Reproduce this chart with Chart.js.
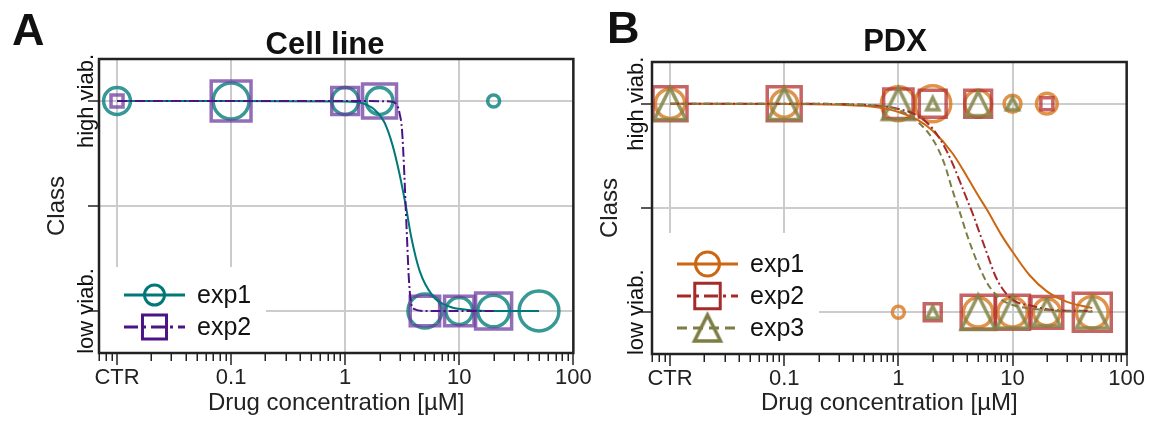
<!DOCTYPE html>
<html>
<head>
<meta charset="utf-8">
<script src="https://cdn.jsdelivr.net/npm/chart.js@4.4.0/dist/chart.umd.min.js"></script>
<style>
  html, body { margin: 0; padding: 0; background: #fff; overflow: hidden; }
  .wrap { position: relative; width: 1150px; height: 421px; overflow: hidden; }
  .panel { position: absolute; top: 0; }
  #panelA { left: 0; }
  #panelB { left: 580px; }
</style>
</head>
<body>
<div class="wrap">
  <div class="panel" id="panelA"><canvas id="chartA" width="605" height="421"></canvas></div>
  <div class="panel" id="panelB"><canvas id="chartB" width="577" height="421"></canvas></div>
</div>
<script>
// ---- axis ticks ----
const xTickValues = [0.01, 0.1, 1, 10, 100];      // CTR is plotted at 0.01
const xTickLabels = ['CTR', '0.1', '1', '10', '100'];
const yTickValues = [0, 0.5, 1];
const yTickLabels = ['low viab.', '', 'high viab.'];

// ---- Cell line: markers (n = replicate count, sets marker size) ----
const cellExp1X = [0.01, 0.1, 1, 2, 20, 5, 10, 20, 50];
const cellExp1Y = [1, 1, 1, 1, 1, 0, 0, 0, 0];
const cellExp1N = [5, 9, 5, 5, 1, 8, 5, 7, 11];
const cellExp2X = [0.01, 0.1, 1, 2, 5, 10, 20];
const cellExp2Y = [1, 1, 1, 1, 0, 0, 0];
const cellExp2N = [1, 11, 5, 8, 6, 6, 9];

// ---- Cell line: fitted curves ----
const cellFit1X = [0.01, 0.1, 1, 1.4, 1.8, 2.2, 2.6, 3.0, 3.4, 3.8, 4.5, 5.9, 8.3, 12, 20, 50];
const cellFit1Y = [1, 1, 0.998, 0.99, 0.96, 0.9, 0.79, 0.65, 0.5, 0.35, 0.19, 0.07, 0.02, 0.005, 0, 0];
const cellFit2X = [0.01, 0.1, 1, 2.5, 2.85, 3.0, 3.15, 3.3, 3.4, 3.5, 3.6, 3.75, 4.0, 5, 20];
const cellFit2Y = [1, 1, 1, 0.998, 0.98, 0.94, 0.86, 0.65, 0.48, 0.32, 0.17, 0.05, 0.01, 0, 0];

// ---- PDX: markers ----
const pdxExp1X = [0.01, 0.1, 1, 2, 5, 10, 20, 1, 5, 10, 20, 50];
const pdxExp1Y = [1, 1, 1, 1, 1, 1, 1, 0, 0, 0, 0, 0];
const pdxExp1N = [6, 5, 8, 9, 5, 2, 3, 1, 6, 6, 5, 7];
const pdxExp2X = [0.01, 0.1, 1, 2, 5, 20, 2, 5, 10, 20, 50];
const pdxExp2Y = [1, 1, 1, 1, 1, 1, 0, 0, 0, 0, 0];
const pdxExp2N = [8, 8, 6, 5, 5, 1, 2, 8, 8, 7, 10];
const pdxExp3X = [0.01, 0.1, 1, 2, 5, 10, 2, 5, 10, 20, 50];
const pdxExp3Y = [1, 1, 1, 1, 1, 1, 0, 0, 0, 0, 0];
const pdxExp3N = [7, 7, 7, 1, 4, 1, 1, 8, 7, 5, 7];

// ---- PDX: fitted curves ----
const pdxFit1X = [0.01, 0.1, 0.3, 0.5, 0.7, 1, 1.5, 2, 3, 4, 5, 6, 8, 10, 14, 20, 30, 50];
const pdxFit1Y = [1, 0.999, 0.995, 0.99, 0.98, 0.96, 0.92, 0.87, 0.76, 0.65, 0.56, 0.49, 0.37, 0.29, 0.18, 0.1, 0.05, 0.02];
const pdxFit2X = [0.01, 0.1, 0.5, 1, 1.5, 2, 2.5, 3, 3.5, 4, 4.5, 5, 6, 7, 8, 10, 15, 20, 50];
const pdxFit2Y = [1, 1, 0.995, 0.975, 0.94, 0.88, 0.8, 0.71, 0.62, 0.54, 0.47, 0.4, 0.28, 0.18, 0.12, 0.06, 0.03, 0.015, 0.005];
const pdxFit3X = [0.01, 0.1, 0.5, 1, 1.5, 2, 2.5, 3, 3.5, 4, 5, 6, 7, 8, 10, 20, 50];
const pdxFit3Y = [1, 1, 0.995, 0.97, 0.91, 0.83, 0.72, 0.58, 0.47, 0.37, 0.23, 0.14, 0.09, 0.06, 0.035, 0.01, 0.003];

const FONT = '"Liberation Sans", Arial, Helvetica, sans-serif';
Chart.defaults.font.family = FONT;
Chart.defaults.color = '#222';

const X_MIN = 0.00695, X_MAX = 100;
const minorX = [];
[0.001, 0.01, 0.1, 1, 10].forEach(d => { for (let k = 2; k <= 9; k++) minorX.push(d * k); });
const allXTicks = xTickValues.concat(minorX).filter(v => v >= X_MIN && v <= X_MAX).sort((a, b) => a - b);

function majorIndex(v) {
  return xTickValues.findIndex(t => Math.abs(v - t) / t < 1e-6);
}
const isMajorTick = c => !!(c.tick && majorIndex(c.tick.value) >= 0);

const rOf = n => 6 * Math.sqrt(n);
const pts = (xs, ys) => xs.map((x, i) => ({ x, y: ys[i] }));

// matplotlib-like "^": width == height, centred on its bounding box
function triCanvas(t, color, lw) {
  const pad = Math.ceil(lw * 2);
  const size = Math.ceil(2 * t) + 2 * pad;
  const c = document.createElement('canvas');
  c.width = c.height = size;
  const g = c.getContext('2d');
  const m = size / 2;
  g.strokeStyle = color;
  g.lineWidth = lw;
  g.lineJoin = 'miter';
  g.beginPath();
  g.moveTo(m, m - t);
  g.lineTo(m + t, m + t);
  g.lineTo(m - t, m + t);
  g.closePath();
  g.stroke();
  return c;
}

function markerSet(xs, ys, ns, style, color, order) {
  const k = style === 'rect' ? 1 / Math.SQRT1_2 : 1;
  const radii = ns.map(n => rOf(n) * k);
  const ps = style === 'triangle' ? ns.map(n => triCanvas(rOf(n), color, 3.5)) : style;
  return {
    data: pts(xs, ys), showLine: false, pointStyle: ps,
    pointRadius: radii, pointHoverRadius: radii,
    pointBorderColor: color, pointBackgroundColor: 'rgba(0,0,0,0)',
    pointBorderWidth: 3.5, order
  };
}

function curveSet(xs, ys, color, dash) {
  return {
    data: pts(xs, ys), showLine: true, pointRadius: 0, borderColor: color,
    borderWidth: 2, borderDash: dash, cubicInterpolationMode: 'monotone', fill: false, order: 0
  };
}

function panelPlugin(p) {
  return {
    id: 'panel' + p.letter,
    afterDatasetsDraw(chart) {
      const ctx = chart.ctx, ca = chart.chartArea;
      // legend box
      ctx.save();
      ctx.fillStyle = '#ffffff';
      const top = ca.bottom - p.legendHeight;
      ctx.fillRect(ca.left + 1, top, 166, ca.bottom - top - 1);
      p.legend.forEach((e, i) => {
        const y = ca.bottom - 26 - (p.legend.length - 1 - i) * 32;
        ctx.strokeStyle = e.line;
        ctx.lineWidth = 3;
        ctx.setLineDash(e.dash);
        ctx.beginPath();
        ctx.moveTo(ca.left + 25, y);
        ctx.lineTo(ca.left + 86, y);
        ctx.stroke();
        ctx.setLineDash([]);
        ctx.fillStyle = 'rgba(0,0,0,0)';
        const style = e.style === 'triangle' ? triCanvas(e.r, e.line, 3.5) : e.style;
        Chart.helpers.drawPoint(ctx, { pointStyle: style, radius: e.r, borderWidth: 3.5, rotation: 0 }, ca.left + 55.5, y);
        ctx.fillStyle = '#111';
        ctx.font = '25px ' + FONT;
        ctx.textAlign = 'left';
        ctx.textBaseline = 'middle';
        ctx.fillText(e.label, ca.left + 98, y + 1);
      });
      ctx.restore();
    },
    afterDraw(chart) {
      const ctx = chart.ctx, ca = chart.chartArea, ys = chart.scales.y, xs = chart.scales.x;
      ctx.save();
      // shorter minor tick marks on the log axis
      ctx.strokeStyle = '#222';
      ctx.lineWidth = 1.5;
      ctx.beginPath();
      allXTicks.filter(v => majorIndex(v) < 0).forEach(v => {
        const px = Math.round(xs.getPixelForValue(v)) + 0.25;
        ctx.moveTo(px, ca.bottom);
        ctx.lineTo(px, ca.bottom + 8);
      });
      ctx.stroke();
      // frame
      ctx.lineWidth = 2.5;
      ctx.strokeRect(ca.left, ca.top, ca.right - ca.left, ca.bottom - ca.top);
      // rotated y tick labels
      ctx.fillStyle = '#111';
      ctx.font = '22px ' + FONT;
      ctx.textAlign = 'center';
      ctx.textBaseline = 'alphabetic';
      yTickValues.forEach((v, i) => {
        if (!yTickLabels[i]) return;
        ctx.save();
        ctx.translate(ca.left - p.yLabelGap, ys.getPixelForValue(v));
        ctx.rotate(-Math.PI / 2);
        ctx.fillText(yTickLabels[i], 0, 0);
        ctx.restore();
      });
      // panel letter and title
      ctx.textAlign = 'left';
      ctx.font = 'bold 45px ' + FONT;
      ctx.fillText(p.letter, p.letterX, p.letterY);
      ctx.textAlign = 'center';
      ctx.font = 'bold 31px ' + FONT;
      ctx.fillText(p.title, p.titleX, p.titleY);
      ctx.restore();
    }
  };
}

function makeChart(id, p) {
  return new Chart(document.getElementById(id), {
    type: 'scatter',
    data: { datasets: p.datasets },
    options: {
      responsive: false, animation: false,
      layout: { padding: { left: 0, right: 0, top: p.padTop, bottom: 0 } },
      plugins: { legend: { display: false }, tooltip: { enabled: false } },
      scales: {
        x: {
          type: 'logarithmic', min: X_MIN, max: X_MAX,
          afterBuildTicks: s => { s.ticks = allXTicks.map(v => ({ value: v })); },
          afterFit: s => { s.height = p.xHeight; },
          border: { display: false },
          grid: {
            color: c => isMajorTick(c) ? '#cccccc' : 'rgba(0,0,0,0)',
            tickColor: c => isMajorTick(c) ? '#222' : 'rgba(0,0,0,0)',
            lineWidth: 2, tickWidth: 1.5, tickLength: 12
          },
          ticks: {
            autoSkip: false, maxRotation: 0, minRotation: 0, padding: 0, color: '#222',
            font: { size: 22 },
            callback: v => { const i = majorIndex(v); return i >= 0 ? xTickLabels[i] : ''; }
          },
          title: { display: true, text: 'Drug concentration [µM]', color: '#222', font: { size: 24 }, padding: { top: 0, bottom: 3 } }
        },
        y: {
          min: -0.2, max: 1.2,
          afterBuildTicks: s => { s.ticks = yTickValues.map(v => ({ value: v })); },
          afterFit: s => { s.width = p.yWidth; },
          border: { display: false },
          grid: { color: '#cccccc', lineWidth: 2, tickColor: '#222', tickWidth: 1.5, tickLength: 11 },
          ticks: { display: false },
          title: { display: true, text: 'Class', color: '#222', font: { size: 24 }, padding: { top: p.classPad, bottom: 0 } }
        }
      }
    },
    plugins: [panelPlugin(p)]
  });
}

const TEAL = '#00787a', TEAL_M = 'rgba(20,135,130,0.85)';
const PURP = '#4a1486', PURP_M = 'rgba(110,60,160,0.75)';
const ORNG = '#cc6611', ORNG_M = 'rgba(215,120,30,0.8)';
const RED = '#a52a2a', RED_M = 'rgba(180,50,50,0.75)';
const OLIV = '#7d7d45', OLIV_M = 'rgba(130,130,70,0.85)';

makeChart('chartA', {
  letter: 'A', letterX: 12, letterY: 45, title: 'Cell line', titleX: 325, titleY: 54,
  padTop: 59, yWidth: 99, xHeight: 68, classPad: 43, legendHeight: 86, yLabelGap: 6,
  datasets: [
    curveSet(cellFit2X, cellFit2Y, PURP, [10, 3, 2, 3]),
    curveSet(cellFit1X, cellFit1Y, TEAL, []),
    markerSet(cellExp2X, cellExp2Y, cellExp2N, 'rect', PURP_M, 1),
    markerSet(cellExp1X, cellExp1Y, cellExp1N, 'circle', TEAL_M, 2)
  ],
  legend: [
    { label: 'exp1', line: TEAL, dash: [], style: 'circle', r: 10 },
    { label: 'exp2', line: PURP, dash: [14, 5, 3, 5], style: 'rect', r: 17 }
  ]
});

makeChart('chartB', {
  letter: 'B', letterX: 27, letterY: 43, title: 'PDX', titleX: 315, titleY: 51,
  padTop: 62, yWidth: 72, xHeight: 67, classPad: 16, legendHeight: 121, yLabelGap: 9,
  datasets: [
    curveSet(pdxFit3X, pdxFit3Y, OLIV, [7, 4]),
    curveSet(pdxFit2X, pdxFit2Y, RED, [9, 3, 2, 3]),
    curveSet(pdxFit1X, pdxFit1Y, ORNG, []),
    markerSet(pdxExp3X, pdxExp3Y, pdxExp3N, 'triangle', OLIV_M, 1),
    markerSet(pdxExp2X, pdxExp2Y, pdxExp2N, 'rect', RED_M, 2),
    markerSet(pdxExp1X, pdxExp1Y, pdxExp1N, 'circle', ORNG_M, 3)
  ],
  legend: [
    { label: 'exp1', line: ORNG, dash: [], style: 'circle', r: 12 },
    { label: 'exp2', line: RED, dash: [14, 5, 3, 5], style: 'rect', r: 18 },
    { label: 'exp3', line: OLIV, dash: [10, 6], style: 'triangle', r: 13 }
  ]
});
</script>
</body>
</html>
